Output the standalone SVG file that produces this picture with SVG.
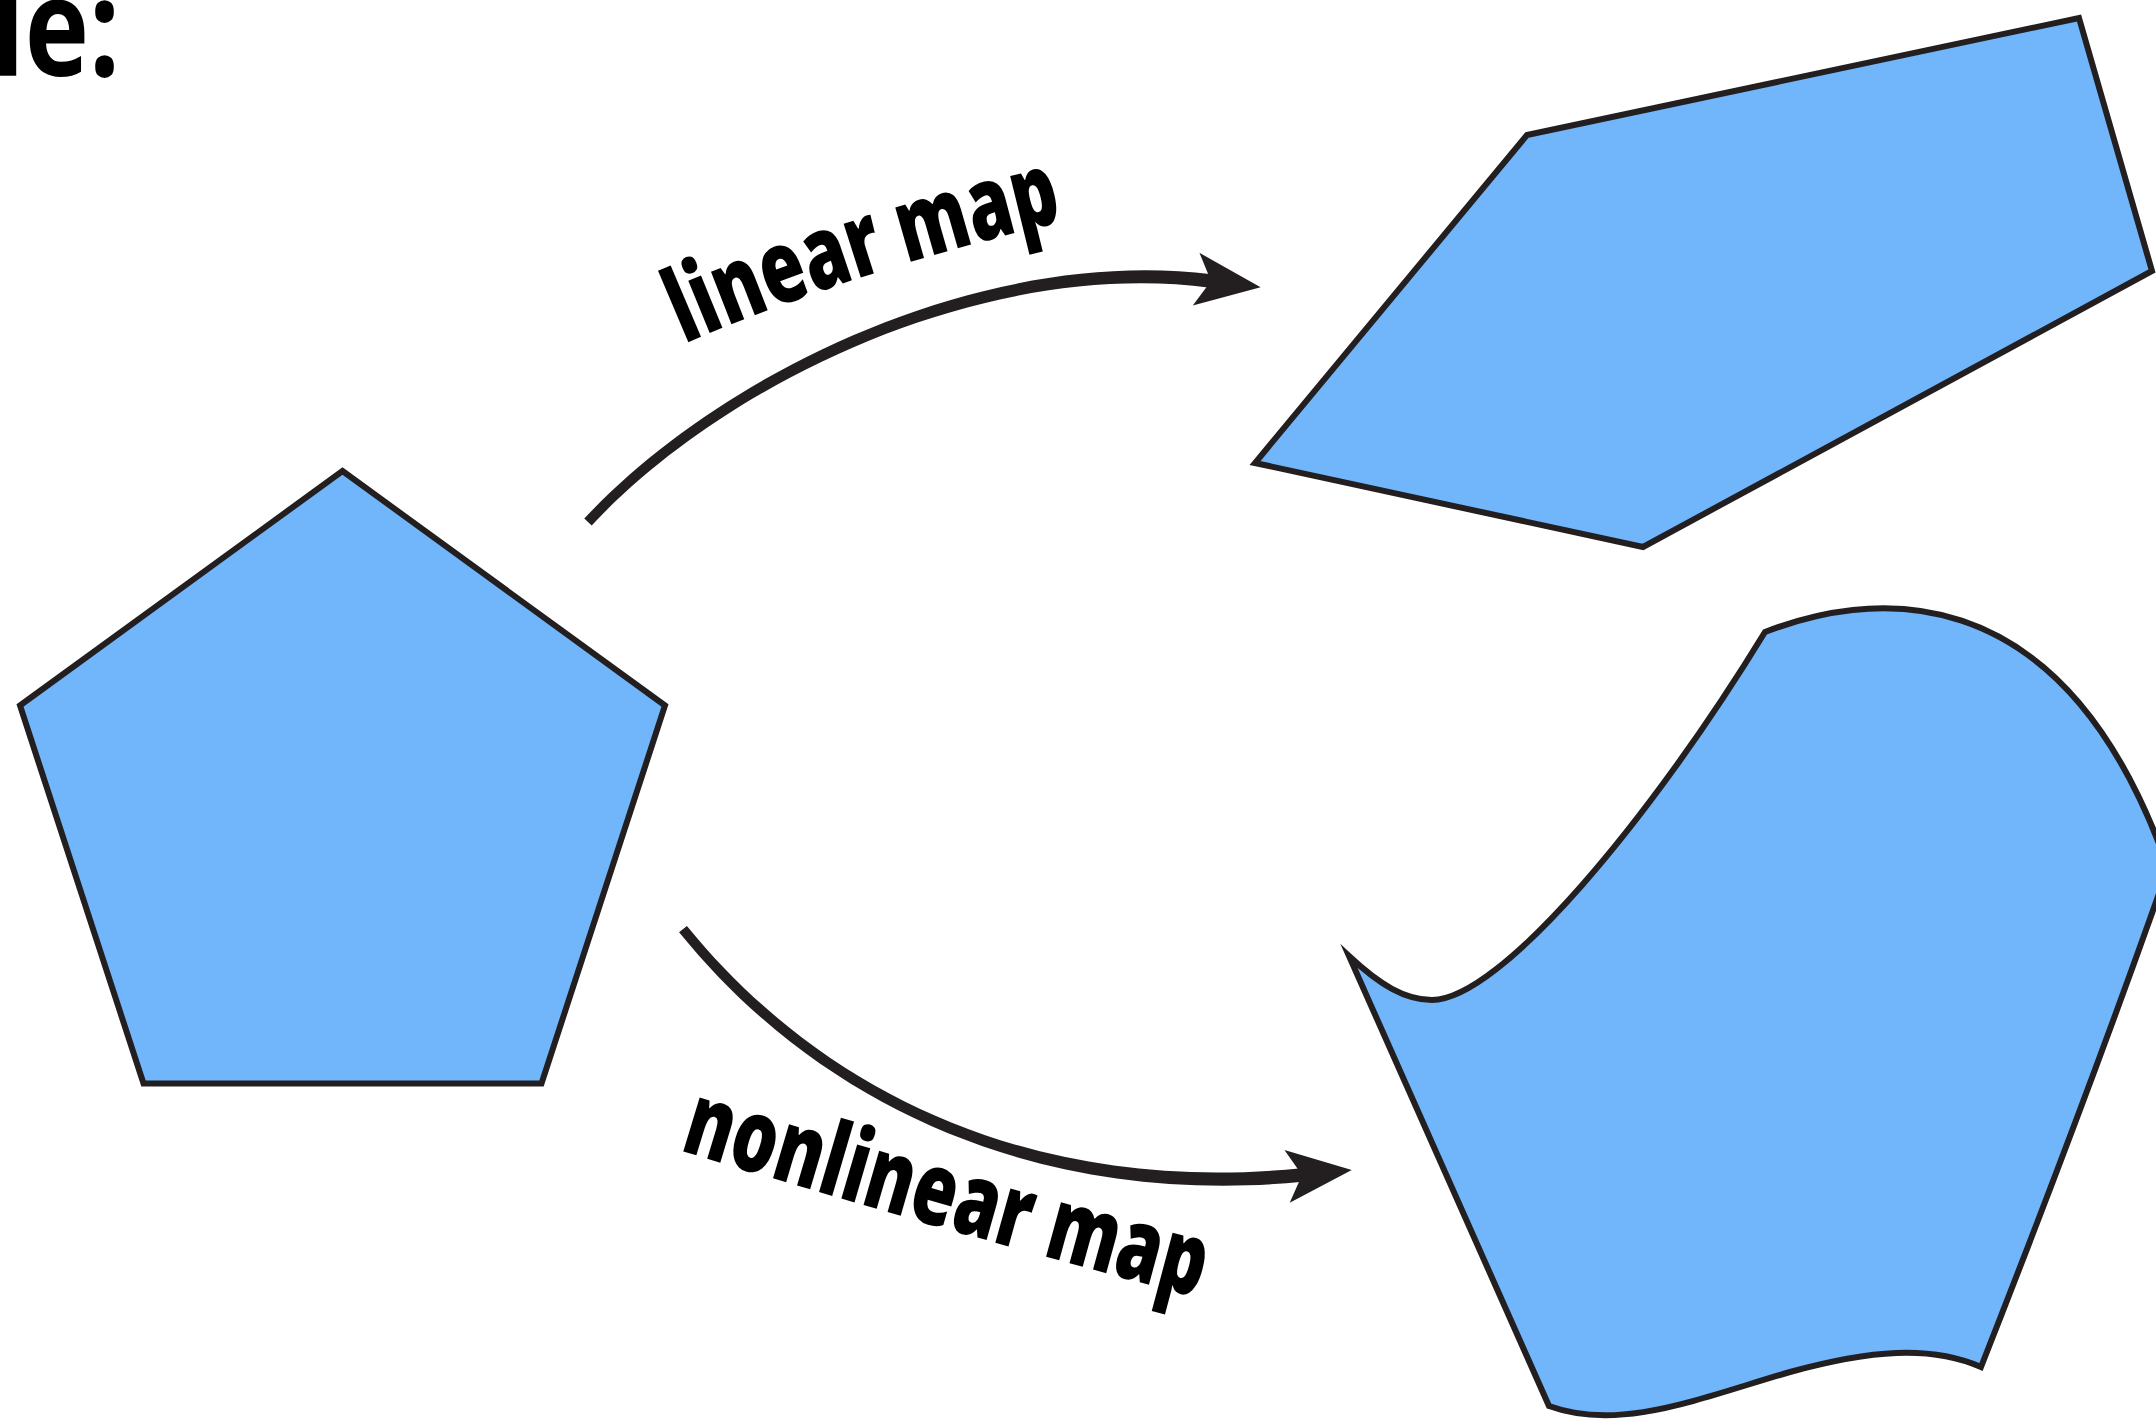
<svg xmlns="http://www.w3.org/2000/svg" xmlns:xlink="http://www.w3.org/1999/xlink" width="2156" height="1421" viewBox="0 0 2156 1421">
  <style>
    .shape { fill: #71b5fb; stroke: #231f20; stroke-width: 6; stroke-linejoin: miter; stroke-miterlimit: 10; }
    .conn { fill: #231f20; stroke: none; }
    .lbl { font-family: "Open Sans", "Liberation Sans", Arial, sans-serif; font-weight: 800; font-size: 102px; fill: #000; }
    .title { font-family: "Open Sans", "Liberation Sans", Arial, sans-serif; font-weight: bold; font-size: 136px; fill: #000; }
  </style>
  <defs>
    <path id="head" d="M 50 0 L -15 -26.5 L 0 0 L -15 26.5 Z"/>
    <path id="p-lin" d="M 684 344 Q 850 272 1060 222"/>
    <path id="p-non" d="M 679 1150 Q 940 1230 1225 1305"/>
  </defs>
  <rect width="2156" height="1421" fill="#fff"/>

  <g id="title">
    <text class="title" transform="scale(0.8,1)" x="-10.6" y="76">le:</text>
  </g>

  <g id="source">
    <polygon class="shape" points="342.5,471 665,705.5 541.5,1083.5 143.5,1083.5 20,705.5"/>
  </g>

  <g id="linear-image">
    <polygon class="shape" points="1527,135 2079,18 2152,271 1643,547 1255,463"/>
  </g>

  <g id="nonlinear-image">
    <path class="shape" d="M 1349 956 C 1380 985 1405 1000 1432 1000 C 1500 1000 1650 820 1765 632 C 1860 595 2060 560 2168 868 Q 2090 1090 1981 1367 C 1930 1345 1870 1350 1790 1372 C 1700 1398 1620 1432 1549 1406 Z"/>
  </g>

  <g id="connectors">
    <g id="arrow-linear">
      <path class="conn" d="M 591.7 525.4 C 723.3 384.5 981 258.1 1210.2 287.7 L 1211.8 274.3 C 979 245.9 716.7 375.5 584.3 518.6 Z"/>
      <use xlink:href="#head" href="#head" class="conn" transform="translate(1211 281) rotate(7.2)"/>
    </g>
    <g id="arrow-nonlinear">
      <path class="conn" d="M 679.1 932.2 C 826.7 1114.5 1049.1 1206.1 1302.7 1181.8 L 1301.3 1168.2 C 1050.9 1193.9 833.3 1105.5 686.9 925.9 Z"/>
      <use xlink:href="#head" href="#head" class="conn" transform="translate(1302 1175) rotate(-5.7)"/>
    </g>
  </g>

  <g id="labels">
    <text class="lbl"><textPath xlink:href="#p-lin" href="#p-lin" textLength="400" lengthAdjust="spacingAndGlyphs">linear map</textPath></text>
    <text class="lbl"><textPath xlink:href="#p-non" href="#p-non" textLength="540" lengthAdjust="spacingAndGlyphs">nonlinear map</textPath></text>
  </g>
</svg>
